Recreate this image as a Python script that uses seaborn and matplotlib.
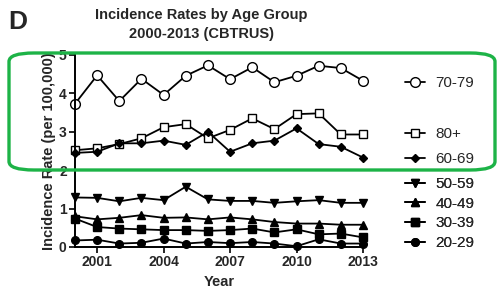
import matplotlib
matplotlib.use("Agg")
import matplotlib.pyplot as plt
import seaborn as sns
from matplotlib.patches import FancyBboxPatch
from matplotlib.lines import Line2D

years = list(range(2000, 2014))
r70_79 = [3.73, 4.47, 3.80, 4.38, 3.96, 4.46, 4.73, 4.37, 4.68, 4.29, 4.46, 4.72, 4.66, 4.33]
r80p = [2.52, 2.57, 2.68, 2.83, 3.12, 3.20, 2.83, 3.05, 3.35, 3.07, 3.46, 3.48, 2.93, 2.93]
r60_69 = [2.45, 2.48, 2.70, 2.70, 2.77, 2.66, 3.00, 2.48, 2.70, 2.77, 3.09, 2.68, 2.61, 2.33]
r50_59 = [1.29, 1.28, 1.19, 1.28, 1.22, 1.57, 1.24, 1.20, 1.20, 1.15, 1.19, 1.22, 1.15, 1.15]
r40_49 = [0.80, 0.72, 0.76, 0.83, 0.76, 0.77, 0.72, 0.77, 0.72, 0.65, 0.61, 0.61, 0.58, 0.58]
r30_39 = [0.74, 0.52, 0.48, 0.46, 0.44, 0.44, 0.42, 0.44, 0.48, 0.38, 0.46, 0.33, 0.35, 0.25]
r20_29 = [0.17, 0.19, 0.09, 0.11, 0.22, 0.09, 0.13, 0.10, 0.13, 0.09, 0.02, 0.20, 0.09, 0.09]

series = [
    ("70-79", r70_79, "o", 7, "white"),
    ("80+", r80p, "s", 6.3, "white"),
    ("60-69", r60_69, "D", 3.6, "black"),
    ("50-59", r50_59, "v", 5.8, "black"),
    ("40-49", r40_49, "^", 5.8, "black"),
    ("30-39", r30_39, "s", 5.3, "black"),
    ("20-29", r20_29, "o", 5.5, "black"),
]

sns.set_style("ticks")
plt.rcParams['font.family'] = ['Liberation Sans', 'DejaVu Sans']

fig = plt.figure(figsize=(4.98, 2.92), dpi=100)
ax = fig.add_axes([75/498, 45/292, 288/498, 192/292])

handles = {}
for name, vals, mk, ms, fc in series:
    sns.lineplot(x=years, y=vals, ax=ax, color="black", linewidth=1.3,
                 marker=mk, markersize=ms, markerfacecolor=fc,
                 markeredgecolor="black", markeredgewidth=1.0, clip_on=False)
    handles[name] = Line2D([], [], color="black", linewidth=1.3, marker=mk,
                           markersize=ms, markerfacecolor=fc,
                           markeredgecolor="black", markeredgewidth=1.0)

ax.set_xlim(2000, 2013)
ax.set_ylim(0, 5)
ax.set_xticks([2001, 2004, 2007, 2010, 2013])
ax.set_yticks([0, 1, 2, 3, 4, 5])
for lab in ax.get_xticklabels() + ax.get_yticklabels():
    lab.set_fontweight("bold")
    lab.set_fontsize(10)
ax.tick_params(axis="both", length=4, width=1.2, color="black", pad=2)
for s in ["left", "bottom"]:
    ax.spines[s].set_linewidth(1.4)
    ax.spines[s].set_color("black")
sns.despine(ax=ax)
ax.set_xlabel("Year", fontsize=10.5, fontweight="bold", labelpad=4)
ax.set_ylabel("Incidence Rate (per 100,000)", fontsize=10.5, fontweight="bold", labelpad=2)

def add_leg(names, y_top, spacing):
    leg = ax.legend([handles[n] for n in names], names, loc="upper left",
                    bbox_to_anchor=(405/498, y_top), bbox_transform=fig.transFigure,
                    frameon=False, fontsize=11, handlelength=1.3, handletextpad=0.7,
                    labelspacing=spacing, borderaxespad=0, borderpad=0)
    ax.add_artist(leg)
    return leg

add_leg(["70-79"], 1 - 76/292, 0.3)
add_leg(["80+", "60-69"], 1 - 127/292, 0.75)
add_leg(["50-59", "40-49", "30-39", "20-29"], 1 - 177/292, 0.37)

fig.text(201/498, 1 - 15/292, "Incidence Rates by Age Group", ha="center", va="center",
         fontsize=10.5, fontweight="bold")
fig.text(201/498, 1 - 34/292, "2000-2013 (CBTRUS)", ha="center", va="center",
         fontsize=10.5, fontweight="bold")
fig.text(8/498, 1 - 22/292, "D", ha="left", va="center", fontsize=19, fontweight="bold")

box = FancyBboxPatch((9/498, 1 - 170/292), 486/498, 117/292,
                     boxstyle="round,pad=0,rounding_size=0.05",
                     transform=fig.transFigure, fill=False, edgecolor="#1db347",
                     linewidth=2.4, mutation_aspect=292/498)
fig.patches.append(box)

fig.savefig("out.png", dpi=100)
